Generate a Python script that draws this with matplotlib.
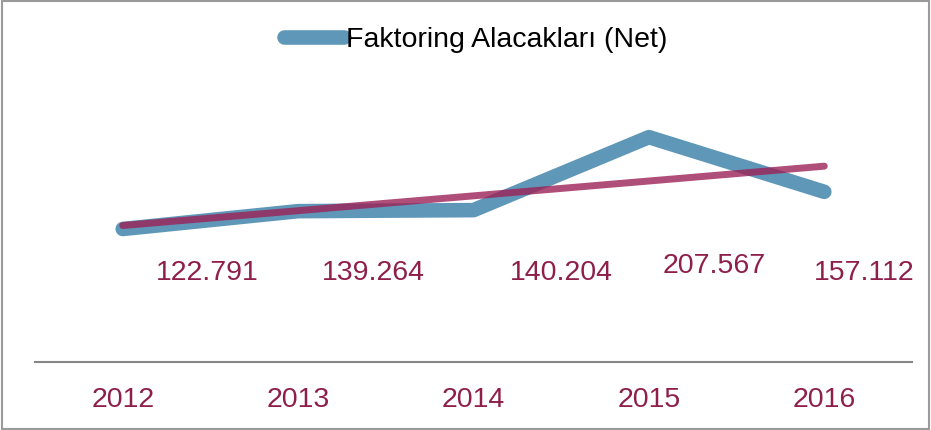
import numpy as np
import matplotlib.pyplot as plt
from matplotlib.patches import Rectangle

plt.rcParams['font.family'] = ['Liberation Sans', 'DejaVu Sans']

# Veriler
years = ['2012', '2013', '2014', '2015', '2016']
values = [122.791, 139.264, 140.204, 207.567, 157.112]
labels = ['122.791', '139.264', '140.204', '207.567', '157.112']
series_name = 'Faktoring Alacakları (Net)'

blue = '#5f97b9'
maroon = '#8e1f4b'

fig = plt.figure(figsize=(9.31, 4.30), dpi=100)
ax = fig.add_axes([0.0376, 0.158, 0.942, 0.630])

x = np.arange(len(years))
ax.plot(x, values, color=blue, lw=10.5, solid_capstyle='round',
        solid_joinstyle='round', label=series_name, zorder=2)

# Doğrusal eğilim çizgisi
k, b = np.polyfit(x, values, 1)
ax.plot(x, k * x + b, color='#9b2257', lw=5, alpha=0.8,
        solid_capstyle='round', zorder=3)

# Veri etiketleri (elle yerleştirilmiş gibi)
offsets = [0.48, 0.43, 0.50, 0.37, 0.23]
label_y = [82.0, 82.0, 82.0, 88.5, 82.0]
for i, (lab, dx, ly) in enumerate(zip(labels, offsets, label_y)):
    ax.text(i + dx, ly, lab, ha='center', va='center', fontsize=20.5,
            color=maroon)

ax.set_xlim(-0.5, 4.5)
ax.set_ylim(0, 250)
ax.set_xticks(x)
ax.set_xticklabels(years, fontsize=20.5, color=maroon)
ax.tick_params(axis='x', length=0, pad=18)
ax.set_yticks([])
for s in ['top', 'right', 'left']:
    ax.spines[s].set_visible(False)
ax.spines['bottom'].set_color('#868686')
ax.spines['bottom'].set_linewidth(1.5)

fig.legend(loc='center', bbox_to_anchor=(0.511, 0.907), frameon=False,
           fontsize=20.5, handlelength=2.1, handletextpad=0.05,
           borderpad=0)

fig.patches.append(Rectangle((0.002, 0.003), 0.996, 0.994,
                             transform=fig.transFigure, fill=False,
                             edgecolor='#9a9a9a', lw=1.5))

fig.savefig('out.png', dpi=100)
